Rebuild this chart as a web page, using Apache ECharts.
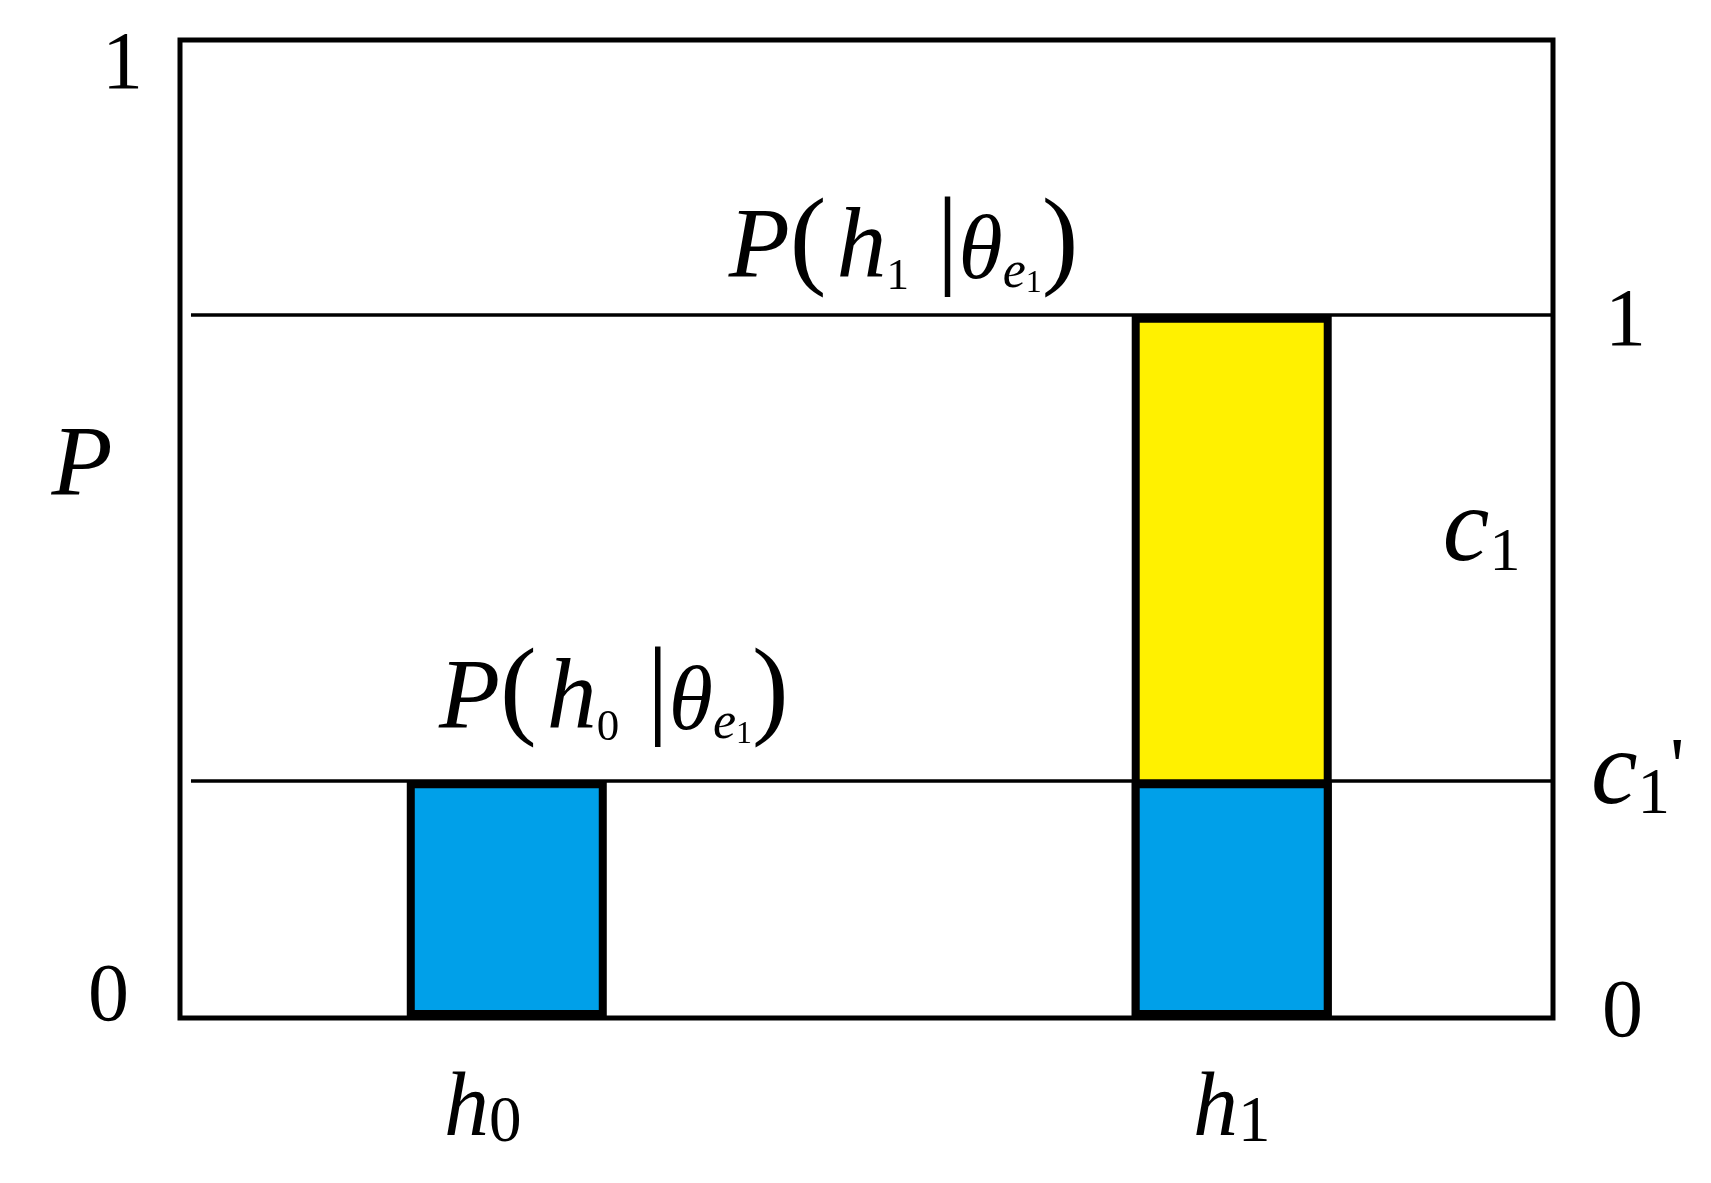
<!DOCTYPE html>
<html><head><meta charset="utf-8">
<script src="https://cdn.jsdelivr.net/npm/echarts@6/dist/echarts.min.js"></script>
<style>html,body{margin:0;padding:0;background:#fff}#c{width:1711px;height:1183px}</style>
</head><body><div id="c"></div>
<script>
// ---- data ----
const categories = ['h0', 'h1'];
const categoryX = [0.238, 0.766];          // position of each hypothesis along the x axis
const blueValues = [0.243, 0.243];         // P(h0|θe1) level
const yellowTop = ['-', 0.719];            // yellow part reaches P(h1|θe1)
const refLines = [0.719, 0.243];           // P(h1|θe1), P(h0|θe1)
const leftTicks = [0, 1];
const rightTicks = [0, 0.338, 1];
const rightTickLabels = ['0', "c1'", '1'];
const annotX = [0.527, 0.316, 0.948];

// ---- styles ----
const FONT = 'Liberation Serif';
const K = 0.675;
function tok(size, italic, extra) {
  return Object.assign({fontFamily: FONT, fontSize: size, fontStyle: italic ? 'italic' : 'normal',
    color: '#000', lineHeight: size * K, verticalAlign: 'bottom'}, extra || {});
}
const formulaRich = {
  P: tok(100, true), par: tok(110, false), h: tok(100, true), s: tok(45, false),
  bar: tok(110, false), th: tok(90, true), e: tok(52, true), ss: tok(32, false),
  sp: tok(20, false, {width: 10}),
  c: tok(105, true), c1: tok(62, false)
};
function formula(sub) {
  return '{P|P}{par|(}{sp| }{h|h}{s|' + sub + '}{bar| |}{th|θ}{e|e}{ss|1}{par|)}';
}

const chart = echarts.init(document.getElementById('c'), null, {renderer: 'canvas'});
const rightMax = 1 / refLines[0];

chart.setOption({
  animation: false,
  backgroundColor: '#fff',
  grid: {left: 180, right: 158, top: 40, bottom: 165, show: true,
         borderColor: '#000', borderWidth: 5, backgroundColor: 'transparent'},
  graphic: [{
    type: 'text', x: 82, y: 468,
    style: {text: 'P', fontFamily: FONT, fontStyle: 'italic', fontSize: 100, fill: '#000',
            align: 'center', verticalAlign: 'middle'}
  }],
  xAxis: {
    type: 'value', min: 0, max: 1,
    axisLine: {show: false}, axisTick: {show: false}, splitLine: {show: false},
    axisLabel: {
      customValues: categoryX, margin: 78, verticalAlign: 'top',
      formatter: function (v) {
        const i = categoryX.indexOf(v);
        if (i < 0) return '';
        const name = categories[i];
        const s = '{h|' + name.charAt(0) + '}{d|' + name.slice(1) + '}';
        return i === 0 ? s + '{sp| }' : s;
      },
      rich: {h: tok(90, true), d: tok(65, false), sp: tok(20, false, {width: 48})}
    }
  },
  yAxis: [{
    type: 'value', min: 0, max: 1, interval: 1, position: 'left',
    axisLine: {show: false}, axisTick: {show: false}, splitLine: {show: false},
    axisLabel: {
      customValues: leftTicks, margin: 37,
      formatter: function (v) { return v === 1 ? '{t|1}' : '{b|0}'; },
      rich: {
        t: {fontFamily: FONT, fontSize: 82, color: '#000', padding: [52, 0, 0, 0]},
        b: {fontFamily: FONT, fontSize: 82, color: '#000', padding: [0, 14, 40, 0]}
      }
    }
  }, {
    type: 'value', min: 0, max: rightMax, position: 'right',
    axisLine: {show: false}, axisTick: {show: false}, splitLine: {show: false},
    axisLabel: {
      customValues: rightTicks, margin: 38,
      formatter: function (v) {
        const i = rightTicks.indexOf(v);
        if (i < 0) return '';
        const t = rightTickLabels[i];
        if (t === '1') return '{one|1}';
        if (t === '0') return '{zero|0}';
        return '{cc|c}{cs|1}{pr|\'}';
      },
      rich: {
        one: {fontFamily: FONT, fontSize: 82, color: '#000', padding: [18, 0, 0, 14]},
        zero: {fontFamily: FONT, fontSize: 82, color: '#000', padding: [0, 0, 8, 11]},
        cc: tok(105, true), cs: tok(65, false, {lineHeight: 38}),
        pr: tok(80, false, {lineHeight: 96, verticalAlign: 'top'})
      }
    }
  }],
  series: [{
    type: 'bar', name: 'upper', barWidth: 200,
    data: categoryX.map((x, i) => [x, yellowTop[i]]),
    itemStyle: {color: '#FFF100', borderColor: '#000', borderWidth: 8}
  }, {
    type: 'bar', name: 'base', barWidth: 200, barGap: '-100%',
    data: categoryX.map((x, i) => [x, blueValues[i]]),
    itemStyle: {color: '#00A0E9', borderColor: '#000', borderWidth: 8},
    markLine: {
      silent: true, symbol: 'none', animation: false,
      lineStyle: {color: '#000', width: 3.5, type: 'solid'},
      label: {show: false},
      data: refLines.map(v => [{coord: [0.008, v]}, {coord: [1, v]}])
    },
    markPoint: {
      silent: true, symbol: 'circle', symbolSize: 0,
      data: [
        {coord: [annotX[0], refLines[0]], label: {show: true, position: 'top', distance: 15, formatter: formula('1'), rich: formulaRich}},
        {coord: [annotX[1], refLines[1]], label: {show: true, position: 'top', distance: 30, formatter: formula('0'), rich: formulaRich}},
        {coord: [annotX[2], (refLines[0] + refLines[1]) / 2], label: {show: true, position: 'top', distance: 0, offset: [0, 37], formatter: '{c|c}{c1|1}', rich: formulaRich}}
      ]
    }
  }]
});
</script></body></html>
